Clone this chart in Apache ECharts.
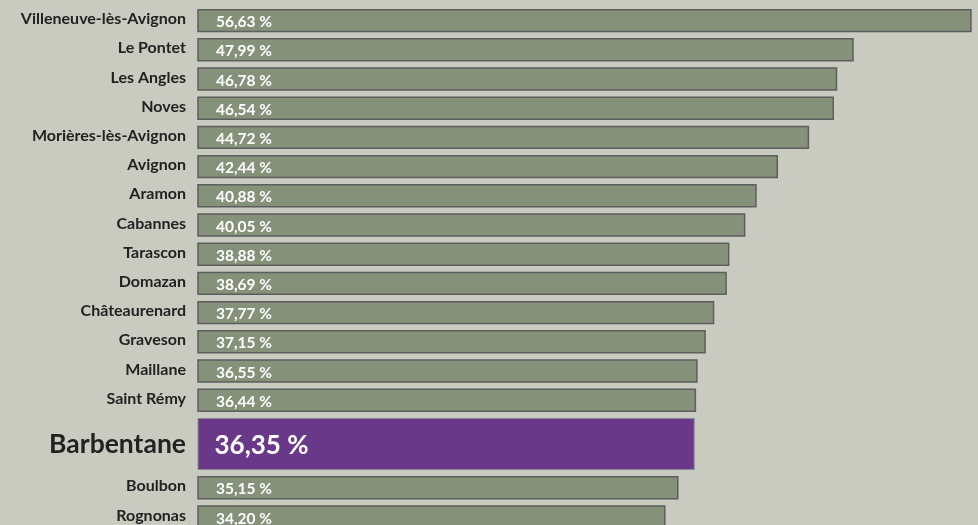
<html>

<head>
    <meta charset="utf-8" />
    <style>
        html, body { margin: 0; padding: 0; background: #c9cbc1; }
    </style>
</head>

<body>
    <div id="chart" style="width:978px;height:525px"></div>
    <script src="https://cdn.jsdelivr.net/npm/echarts@6/dist/echarts.min.js"></script>
    <script>
        // communes et taux
        var communes = ['Villeneuve-lès-Avignon', 'Le Pontet', 'Les Angles', 'Noves', 'Morières-lès-Avignon',
            'Avignon', 'Aramon', 'Cabannes', 'Tarascon', 'Domazan', 'Châteaurenard', 'Graveson',
            'Maillane', 'Saint Rémy', 'Barbentane', 'Boulbon', 'Rognonas'];
        var taux = [56.63, 47.99, 46.78, 46.54, 44.72, 42.44, 40.88, 40.05, 38.88, 38.69, 37.77, 37.15,
            36.55, 36.44, 36.35, 35.15, 34.20];
        var highlight = 'Barbentane';

        // position des lignes : la commune mise en avant prend plus de place
        var rows = [];
        var p = 0;
        for (var i = 0; i < communes.length; i++) {
            if (i > 0) {
                p += (communes[i] === highlight || communes[i - 1] === highlight) ? 1.5 : 1;
            }
            rows.push(p);
        }

        function fmt(v) {
            return v.toFixed(2).replace('.', ',') + ' %';
        }

        var chart = echarts.init(document.getElementById('chart'));
        var option = {
            backgroundColor: '#c9cbc1',
            animation: false,
            grid: { left: 198, right: 2, top: 6, height: 525.6, outerBoundsMode: 'none', containLabel: false },
            xAxis: {
                type: 'value', min: 0, max: 57, show: false
            },
            yAxis: {
                type: 'value', inverse: true, min: -0.5, max: 17.5, interval: 0.5,
                axisLine: { show: false }, axisTick: { show: false }, splitLine: { show: false },
                axisLabel: {
                    margin: 12,
                    color: '#222',
                    fontFamily: 'Lato',
                    fontWeight: 'bold',
                    fontSize: 16,
                    showMinLabel: true,
                    showMaxLabel: true,
                    formatter: function (val) {
                        var idx = rows.indexOf(val);
                        if (idx < 0) return '';
                        if (communes[idx] === highlight) return '{big|' + communes[idx] + '}';
                        return '{n|' + communes[idx] + '}';
                    },
                    rich: {
                        n: { fontFamily: 'Lato', fontWeight: 'bold', fontSize: 16, color: '#222', padding: [0, 0, 3, 0] },
                        big: { fontFamily: 'Lato', fontWeight: 'bold', fontSize: 26.5, color: '#222' }
                    }
                }
            },
            series: [{
                type: 'custom',
                clip: false,
                data: taux.map(function (v, i) { return [v, rows[i], i]; }),
                renderItem: function (params, api) {
                    var v = api.value(0), pos = api.value(1), idx = api.value(2);
                    var big = communes[idx] === highlight;
                    var a = api.coord([0, pos]);
                    var b = api.coord([v, pos]);
                    var h = api.size([0, 1])[1] * (big ? 1.75 : 0.75);
                    return {
                        type: 'group',
                        children: [{
                            type: 'rect',
                            shape: { x: a[0], y: a[1] - h / 2, width: b[0] - a[0], height: h },
                            style: big ? { fill: '#6a3889', stroke: '#8a8a8a', lineWidth: 1 }
                                : { fill: '#86917a', stroke: '#5e5e5e', lineWidth: 1.5 }
                        }, {
                            type: 'text',
                            style: {
                                text: fmt(v),
                                x: a[0] + (big ? 16.5 : 18),
                                y: a[1] + (big ? 2 : 1.5),
                                verticalAlign: 'middle',
                                fill: '#fff',
                                font: 'bold ' + (big ? 26 : 15.5) + 'px Lato'
                            }
                        }]
                    };
                }
            }]
        };
        chart.setOption(option);
    </script>
</body>

</html>
